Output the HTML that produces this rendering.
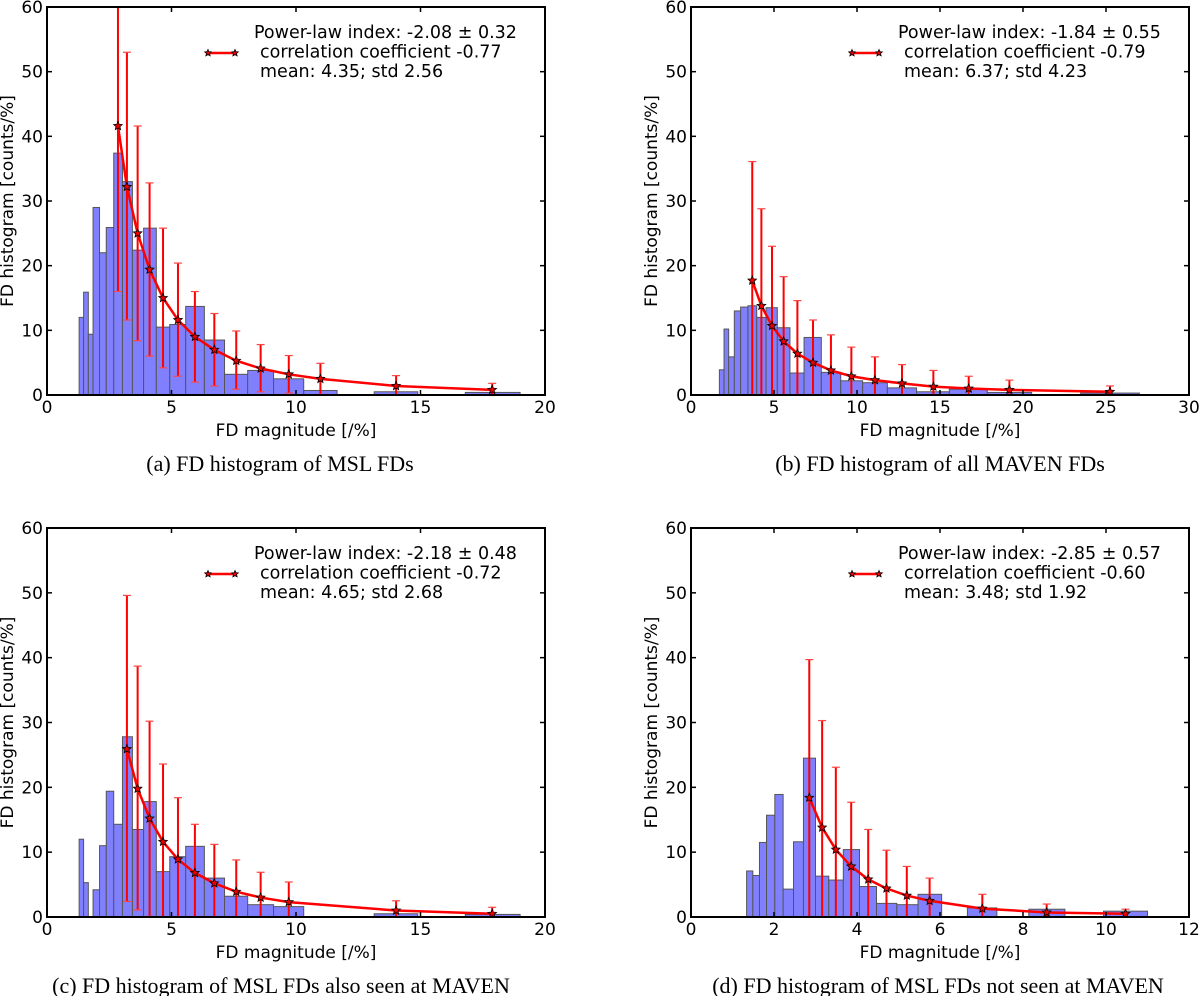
<!DOCTYPE html>
<html><head><meta charset="utf-8"><style>
body{margin:0;background:#fff;width:1200px;height:996px;overflow:hidden}
svg{display:block}
text{font-family:"DejaVu Sans","Liberation Sans",sans-serif}
.cap{font-family:"Liberation Serif",serif;font-size:22px}
</style></head><body>
<svg id="fig" width="1200" height="996" viewBox="0 0 1200 996"></svg>
<script>
// Panel A data
const aBarLeft=[1.29,1.47,1.66,1.85,2.11,2.38,2.68,3.03,3.43,3.88,4.39,4.93,5.57,6.32,7.13,8.06,9.10,10.31,13.14,16.80];
const aBarRight=[1.47,1.66,1.85,2.11,2.38,2.68,3.03,3.43,3.88,4.39,4.93,5.57,6.32,7.13,8.06,9.10,10.31,11.65,14.89,19.0];
const aBarH=[12.0,15.9,9.4,29.0,22.0,25.9,37.4,33.0,22.4,25.8,10.5,10.9,13.7,8.5,3.2,3.8,2.5,0.7,0.5,0.4];
const aFitX=[2.85,3.21,3.64,4.12,4.66,5.26,5.94,6.72,7.60,8.58,9.71,10.98,14.02,17.88];
const aFitY=[41.6,32.2,25.0,19.4,15.0,11.6,9.0,7.0,5.3,4.1,3.2,2.5,1.4,0.8];
const aErrLo=[16.0,11.6,8.4,6.0,4.2,2.9,2.0,1.4,0.9,0.5,0.3,0.1,0,0];
const aErrHi=[67,53.0,41.6,32.8,25.8,20.4,16.0,12.6,9.9,7.8,6.1,4.9,3.0,1.8];
const aXTicks=[0,5,10,15,20];
// Panel B data
const bBarLeft=[1.71,1.99,2.27,2.61,2.99,3.43,3.96,4.52,5.20,5.96,6.81,7.85,9.02,10.34,11.83,13.59,15.56,17.85,23.47];
const bBarRight=[1.99,2.27,2.61,2.99,3.43,3.96,4.52,5.20,5.96,6.81,7.85,9.02,10.34,11.83,13.59,15.56,17.85,20.52,27.01];
const bBarH=[3.9,10.2,5.9,13.0,13.6,13.8,12.0,13.5,10.4,3.4,8.9,3.5,2.2,1.9,1.1,0.5,0.9,0.4,0.3];
const bFitX=[3.69,4.24,4.88,5.58,6.41,7.35,8.43,9.66,11.08,12.71,14.60,16.73,19.18,25.24];
const bFitY=[17.7,13.8,10.7,8.3,6.4,5.0,3.8,2.9,2.3,1.8,1.3,1.0,0.8,0.5];
const bErrLo=[0,0,0,0,0,0,0,0,0,0,0,0,0,0];
const bErrHi=[36.1,28.8,23.0,18.3,14.6,11.6,9.3,7.4,5.9,4.7,3.8,2.9,2.3,1.4];
const bXTicks=[0,5,10,15,20,25,30];
// Panel C data
const cBarLeft=[1.29,1.47,1.85,2.11,2.38,2.68,3.03,3.43,3.88,4.39,4.93,5.57,6.32,7.13,8.06,9.10,13.14,16.80];
const cBarRight=[1.47,1.66,2.11,2.38,2.68,3.03,3.43,3.88,4.39,4.93,5.57,6.32,7.13,8.06,9.10,10.31,14.89,19.0];
const cBarH=[12.0,5.3,4.2,11.0,19.4,14.3,27.8,13.5,17.8,7.0,9.3,10.9,6.0,3.2,1.9,1.6,0.5,0.4];
const cFitX=[3.21,3.64,4.12,4.66,5.26,5.94,6.72,7.60,8.58,9.71,14.02,17.88];
const cFitY=[25.9,19.8,15.2,11.6,8.9,6.8,5.2,3.9,3.0,2.3,1.0,0.5];
const cErrLo=[2.4,1.1,0.1,0,0,0,0,0,0,0,0,0];
const cErrHi=[49.6,38.7,30.2,23.6,18.4,14.3,11.2,8.8,6.9,5.4,2.5,1.5];
const cXTicks=[0,5,10,15,20];
// Panel D data
const dBarLeft=[1.34,1.49,1.65,1.82,2.02,2.22,2.47,2.71,3.00,3.32,3.67,4.06,4.47,4.96,5.47,6.66,8.14,9.94];
const dBarRight=[1.49,1.65,1.82,2.02,2.22,2.47,2.71,3.00,3.32,3.67,4.06,4.47,4.96,5.47,6.04,7.37,9.01,11.0];
const dBarH=[7.1,6.4,11.5,15.7,18.9,4.3,11.6,24.5,6.3,5.7,10.4,4.7,2.1,1.9,3.5,1.4,1.2,0.9];
const dFitX=[2.85,3.16,3.49,3.86,4.27,4.71,5.20,5.75,7.02,8.57,10.47];
const dFitY=[18.4,13.8,10.4,7.8,5.8,4.4,3.3,2.5,1.3,0.7,0.5];
const dErrLo=[0,0,0,0,0,0,0,0,0,0,0];
const dErrHi=[39.7,30.3,23.1,17.7,13.5,10.3,7.8,6.0,3.5,2.0,1.2];
const dXTicks=[0,2,4,6,8,10,12];
const yTicks=[0,10,20,30,40,50,60];

const NS='http://www.w3.org/2000/svg';
const svg=document.getElementById('fig');
function mk(tag,attrs,parent){const e=document.createElementNS(NS,tag);for(const k in attrs)e.setAttribute(k,attrs[k]);(parent||svg).appendChild(e);return e;}

function panel(id,box,xmax,barL,barR,barH,fitX,fitY,lo,hi,xt,leg,caption,capX){
  const g=mk('g',{});
  
  
  const X=v=>box.l+(v/xmax)*(box.r-box.l);
  const Y=v=>box.b-(v/60)*(box.b-box.t);
  const clip=mk('clipPath',{id:'clip'+id},g);
  mk('rect',{x:box.l,y:box.t,width:box.r-box.l,height:box.b-box.t},clip);
  const pg=mk('g',{'clip-path':'url(#clip'+id+')'},g);
  for(let i=0;i<barH.length;i++){
    const r=mk('rect',{x:X(barL[i]),y:Y(barH[i]),width:X(barR[i])-X(barL[i]),height:Y(0)-Y(barH[i]),fill:'#8080ff',stroke:'#555','stroke-width':1},pg);
    
    
  }
  for(let i=0;i<fitX.length;i++){
    const x=X(fitX[i]);
    const e=mk('line',{x1:x,x2:x,y1:Y(lo[i]),y2:Y(hi[i]),stroke:'#f00','stroke-width':2},pg);
    
    
    mk('line',{x1:x-4,x2:x+4,y1:Y(hi[i]),y2:Y(hi[i]),stroke:'#f44','stroke-width':1.2},pg);
    mk('line',{x1:x-4,x2:x+4,y1:Y(lo[i]),y2:Y(lo[i]),stroke:'#f44','stroke-width':1.2},pg);
  }
  const pts=fitX.map((v,i)=>X(v)+','+Y(fitY[i])).join(' ');
  const pl=mk('polyline',{points:pts,fill:'none',stroke:'#f00','stroke-width':2.5},pg);
  
  
  for(let i=0;i<fitX.length;i++){
    const s=star(X(fitX[i]),Y(fitY[i]),4.5,pg);
    
    
  }
  const fr=mk('rect',{x:box.l,y:box.t,width:box.r-box.l,height:box.b-box.t,fill:'none',stroke:'#000','stroke-width':2},g);
  
  
  xt.forEach(v=>{
    const x=X(v);
    mk('line',{x1:x,x2:x,y1:box.b,y2:box.b-5,stroke:'#000','stroke-width':1.5},g);
    mk('line',{x1:x,x2:x,y1:box.t,y2:box.t+5,stroke:'#000','stroke-width':1.5},g);
    const t=mk('text',{x:x,y:box.b+18,'text-anchor':'middle','font-size':17},g);
    t.textContent=v;
    
    
  });
  yTicks.forEach(v=>{
    const y=Y(v);
    mk('line',{x1:box.l,x2:box.l+5,y1:y,y2:y,stroke:'#000','stroke-width':1.5},g);
    mk('line',{x1:box.r,x2:box.r-5,y1:y,y2:y,stroke:'#000','stroke-width':1.5},g);
    const t=mk('text',{x:box.l-4,y:y+6,'text-anchor':'end','font-size':17},g);
    t.textContent=v;
    
    
  });
  const xl=mk('text',{x:(box.l+box.r)/2,y:box.b+41,'text-anchor':'middle','font-size':17},g);
  xl.textContent='FD magnitude [/%]';
  
  
  const yc=(box.t+box.b)/2, yx=box.l-34;
  const yl=mk('text',{x:yx,y:yc,'text-anchor':'middle','font-size':17,transform:'rotate(-90 '+yx+' '+yc+')'},g);
  yl.textContent='FD histogram [counts/%]';
  
  
  const lg=mk('g',{},g);
  
  
  const ly=box.t+46, lx=box.l+161;
  mk('line',{x1:lx,x2:lx+27,y1:ly,y2:ly,stroke:'#f00','stroke-width':2.5},lg);
  star(lx,ly,3.5,lg);star(lx+27,ly,3.5,lg);
  const tx=lx+46;
  leg.forEach((s,i)=>{
    const t=mk('text',{x:tx+(i?6:0),y:box.t+31+i*19.5,'font-size':17.5},lg);
    t.textContent=s;
    
    
  });
  const c=mk('text',{x:capX,y:box.b+76,'text-anchor':'middle',class:'cap'},g);
  c.textContent=caption;
  
  
}
function star(cx,cy,r,parent){
  let p=[];
  for(let k=0;k<10;k++){const a=-Math.PI/2+k*Math.PI/5;const rr=k%2?r*0.45:r;p.push((cx+rr*Math.cos(a)).toFixed(1)+','+(cy+rr*Math.sin(a)).toFixed(1));}
  return mk('polygon',{points:p.join(' '),fill:'#e00',stroke:'#000','stroke-width':0.8},parent);
}
panel('a',{l:47,r:545,t:7,b:395},20,aBarLeft,aBarRight,aBarH,aFitX,aFitY,aErrLo,aErrHi,aXTicks,
 ['Power-law index: -2.08 \u00b1 0.32','correlation coefficient -0.77','mean: 4.35; std 2.56'],'(a) FD histogram of MSL FDs',280);
panel('b',{l:691,r:1189,t:7,b:395},30,bBarLeft,bBarRight,bBarH,bFitX,bFitY,bErrLo,bErrHi,bXTicks,
 ['Power-law index: -1.84 \u00b1 0.55','correlation coefficient -0.79','mean: 6.37; std 4.23'],'(b) FD histogram of all MAVEN FDs',940);
panel('c',{l:47,r:545,t:528,b:917},20,cBarLeft,cBarRight,cBarH,cFitX,cFitY,cErrLo,cErrHi,cXTicks,
 ['Power-law index: -2.18 \u00b1 0.48','correlation coefficient -0.72','mean: 4.65; std 2.68'],'(c) FD histogram of MSL FDs also seen at MAVEN',281);
panel('d',{l:691,r:1189,t:528,b:917},12,dBarLeft,dBarRight,dBarH,dFitX,dFitY,dErrLo,dErrHi,dXTicks,
 ['Power-law index: -2.85 \u00b1 0.57','correlation coefficient -0.60','mean: 3.48; std 1.92'],'(d) FD histogram of MSL FDs not seen at MAVEN',938);
</script>
</body></html>
